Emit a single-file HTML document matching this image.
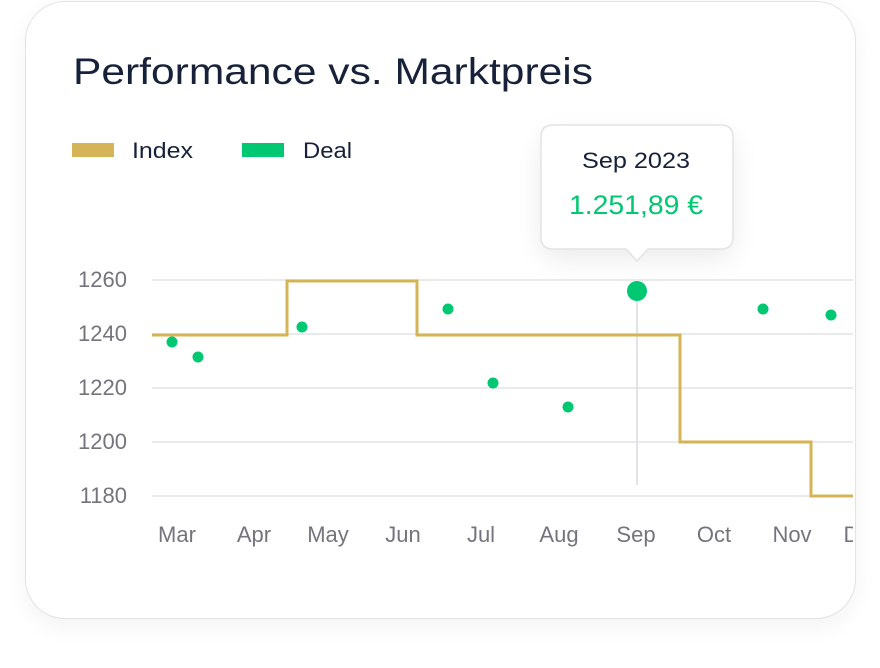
<!DOCTYPE html>
<html><head><meta charset="utf-8"><style>
body{margin:0;background:#fff;width:880px;height:668px;overflow:hidden;font-family:"Liberation Sans",sans-serif;}
.card{position:absolute;left:25px;top:1px;width:829px;height:616px;border:1.5px solid #e3e3e6;border-radius:40px;background:#fff;box-shadow:0 8px 24px rgba(0,0,0,0.05);overflow:hidden;}
</style></head><body>
<div class="card"></div>
<svg width="880" height="668" style="position:absolute;left:0;top:0">
<defs><clipPath id="c"><rect x="0" y="0" width="853" height="668"/></clipPath>
<filter id="sh" x="-50%" y="-50%" width="200%" height="200%"><feGaussianBlur stdDeviation="14"/></filter></defs>
<text x="73" y="84" font-size="37" fill="#17213a" textLength="520" lengthAdjust="spacingAndGlyphs">Performance vs. Marktpreis</text>
<rect x="72" y="143" width="42" height="14" fill="#d4b456"/>
<text x="132" y="158" font-size="22" fill="#17213a" textLength="61" lengthAdjust="spacingAndGlyphs">Index</text>
<rect x="242" y="143" width="42" height="14" fill="#00c872"/>
<text x="303" y="158" font-size="22" fill="#17213a" textLength="49" lengthAdjust="spacingAndGlyphs">Deal</text>
<g clip-path="url(#c)">
<g stroke="#e3e3e6" stroke-width="1.5">
<line x1="152" y1="280" x2="860" y2="280"/><line x1="152" y1="334" x2="860" y2="334"/>
<line x1="152" y1="388" x2="860" y2="388"/><line x1="152" y1="442" x2="860" y2="442"/>
<line x1="152" y1="496" x2="860" y2="496"/></g>
<g font-size="22" fill="#74747e" text-anchor="end">
<text x="127" y="287">1260</text><text x="127" y="341">1240</text><text x="127" y="395">1220</text><text x="127" y="449">1200</text><text x="127" y="503">1180</text></g>
<line x1="637" y1="300" x2="637" y2="485" stroke="#dcdce0" stroke-width="1.5"/>
<polyline fill="none" stroke="#d4b456" stroke-width="3" points="152,335 287,335 287,281 417,281 417,335 680,335 680,442 811,442 811,496 860,496"/>
<g fill="#00c872">
<circle cx="172" cy="342" r="5.5"/><circle cx="198" cy="357" r="5.5"/><circle cx="302" cy="327" r="5.5"/>
<circle cx="448" cy="309" r="5.5"/><circle cx="493" cy="383" r="5.5"/><circle cx="568" cy="407" r="5.5"/>
<circle cx="637" cy="291" r="10"/><circle cx="763" cy="309" r="5.5"/><circle cx="831" cy="315" r="5.5"/></g>
<g font-size="22" fill="#74747e" text-anchor="middle">
<text x="177" y="542">Mar</text><text x="254" y="542">Apr</text><text x="328" y="542">May</text><text x="403" y="542">Jun</text>
<text x="481" y="542">Jul</text><text x="559" y="542">Aug</text><text x="636" y="542">Sep</text><text x="714" y="542">Oct</text>
<text x="792" y="542">Nov</text><text x="863" y="542">Dec</text></g>
</g>
<rect x="541" y="135" width="192" height="124" rx="12" fill="#000" opacity="0.08" filter="url(#sh)"/>
<path d="M553,125 H721 Q733,125 733,137 V237 Q733,249 721,249 H648 L637,261 L626,249 H553 Q541,249 541,237 V137 Q541,125 553,125 Z" fill="#fff" stroke="#e3e3e6" stroke-width="1.5"/>
<text x="582" y="168" font-size="22" fill="#17213a" textLength="108" lengthAdjust="spacingAndGlyphs">Sep 2023</text>
<text x="569" y="214" font-size="27" fill="#00c872" textLength="134" lengthAdjust="spacingAndGlyphs">1.251,89 €</text>
</svg>
</body></html>
